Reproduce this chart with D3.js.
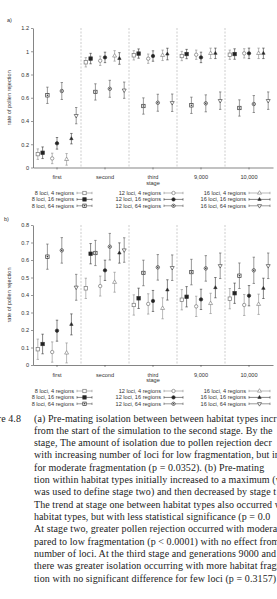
<!DOCTYPE html>
<html>
<head>
<meta charset="utf-8">
<script src="https://cdn.jsdelivr.net/npm/d3@7"></script>
<style>
  body { margin: 0; background: #fff; }
  svg { display: block; }
  .tick text, .lbl { font-family: "Liberation Sans", Arial, sans-serif; font-size: 5.6px; fill: #333; }
  .cap { font-family: "Liberation Serif", "DejaVu Serif", serif; font-size: 10px; letter-spacing: 0.08px; fill: #222; }
</style>
</head>
<body>
<div id="chart"></div>
<script>
// stages along the x axis
var stages = ["first", "second", "third", "9,000", "10,000"];
var series = ["8 loci, 4 regions", "8 loci, 16 regions", "8 loci, 64 regions",
              "12 loci, 4 regions", "12 loci, 16 regions", "12 loci, 64 regions",
              "16 loci, 4 regions", "16 loci, 16 regions", "16 loci, 64 regions"];

// a) between habitat types, one row per series, one value per stage
var betweenRate = [
  [0.115, 0.905, 0.965, 0.959, 0.970],
  [0.127, 0.937, 0.980, 0.976, 0.976],
  [0.621, 0.650, 0.529, 0.535, 0.512],
  [0.078, 0.918, 0.936, 0.970, 0.982],
  [0.208, 0.947, 0.959, 0.947, 0.982],
  [0.658, 0.677, 0.557, 0.552, 0.546],
  [0.070, 0.960, 0.965, 0.982, 0.982],
  [0.248, 0.938, 0.976, 0.982, 0.982],
  [0.446, 0.665, 0.557, 0.575, 0.575]
];
var betweenErr = [
  [0.045, 0.040, 0.040, 0.040, 0.040],
  [0.050, 0.045, 0.040, 0.040, 0.045],
  [0.070, 0.070, 0.070, 0.070, 0.070],
  [0.045, 0.040, 0.040, 0.040, 0.040],
  [0.050, 0.045, 0.045, 0.045, 0.045],
  [0.073, 0.073, 0.073, 0.073, 0.073],
  [0.050, 0.045, 0.045, 0.045, 0.045],
  [0.045, 0.050, 0.050, 0.045, 0.045],
  [0.070, 0.070, 0.075, 0.075, 0.075]
];

// b) within habitat types
var withinRate = [
  [0.090, 0.438, 0.343, 0.373, 0.379],
  [0.120, 0.636, 0.381, 0.390, 0.410],
  [0.619, 0.640, 0.526, 0.531, 0.510],
  [0.074, 0.451, 0.349, 0.335, 0.343],
  [0.196, 0.541, 0.366, 0.375, 0.396],
  [0.655, 0.676, 0.558, 0.552, 0.541],
  [0.069, 0.473, 0.324, 0.352, 0.347],
  [0.232, 0.640, 0.429, 0.442, 0.438],
  [0.444, 0.657, 0.556, 0.567, 0.567]
];
var withinErr = [
  [0.058, 0.058, 0.058, 0.058, 0.058],
  [0.056, 0.058, 0.058, 0.058, 0.058],
  [0.072, 0.072, 0.073, 0.073, 0.073],
  [0.058, 0.057, 0.058, 0.058, 0.060],
  [0.060, 0.058, 0.060, 0.058, 0.058],
  [0.073, 0.076, 0.073, 0.073, 0.075],
  [0.057, 0.057, 0.060, 0.058, 0.058],
  [0.060, 0.058, 0.058, 0.058, 0.058],
  [0.074, 0.070, 0.073, 0.073, 0.073]
];

var captionLines = [
  "(a) Pre-mating isolation between between habitat types incr",
  "from the start of the simulation to the second stage. By the",
  "stage, The amount of isolation due to pollen rejection decr",
  "with increasing number of loci for low fragmentation, but incr",
  "for moderate fragmentation (p = 0.0352).  (b) Pre-mating",
  "tion within habitat types initially increased to a maximum (w",
  "was used to define stage two) and then decreased by stage t",
  "The trend at stage one between habitat types also occurred w",
  "habitat types, but with less statistical significance (p = 0.0",
  "At stage two, greater pollen rejection occurred with moderate",
  "pared to low fragmentation (p < 0.0001) with no effect from",
  "number of loci. At the third stage and generations 9000 and 10",
  "there was greater isolation occurring with more habitat fragm",
  "tion with no significant difference for few loci (p = 0.3157) an"
];

var width = 277, height = 599;
var svg = d3.select("#chart").append("svg")
    .attr("width", width).attr("height", height);
svg.append("rect").attr("width", width).attr("height", height).attr("fill", "#fff");

var xScale = d3.scaleBand().domain(stages).range([33, 273]);
var inner = d3.scalePoint().domain(series).range([0, xScale.bandwidth()]).padding(1);

// colour of error bars depends on fragmentation
function barColour(i) { return ["#8a8a8a", "#333", "#555"][i % 3]; }

function marker(g, i, x, y) {
  var loci = Math.floor(i / 3), reg = i % 3;
  var s = 3.4;
  var fill = reg == 1 ? "#222" : "#fff";
  var stroke = reg == 0 ? "#777" : "#333";
  if (loci == 0) {
    g.append("rect").attr("x", x - s / 2).attr("y", y - s / 2)
      .attr("width", s).attr("height", s)
      .attr("fill", fill).attr("stroke", stroke).attr("stroke-width", 0.7);
    if (reg == 2) g.append("circle").attr("cx", x).attr("cy", y).attr("r", 0.8).attr("fill", "#333");
  } else if (loci == 1) {
    g.append("circle").attr("cx", x).attr("cy", y).attr("r", s / 2)
      .attr("fill", fill).attr("stroke", stroke).attr("stroke-width", 0.7);
    if (reg == 2) g.append("circle").attr("cx", x).attr("cy", y).attr("r", 0.8).attr("fill", "#333");
  } else {
    var sym = d3.symbol().type(d3.symbolTriangle).size(reg == 1 ? 5 : 7);
    g.append("path").attr("d", sym())
      .attr("transform", "translate(" + x + "," + y + ")" + (reg == 2 ? " rotate(180)" : ""))
      .attr("fill", fill).attr("stroke", stroke).attr("stroke-width", 0.6);
  }
}

function panel(opts) {
  var yScale = d3.scaleLinear().domain([0, opts.max]).range([opts.bottom, opts.top]);
  var g = svg.append("g");

  // dashed separators between stages
  stages.slice(1).forEach(function(s) {
    g.append("line")
      .attr("x1", xScale(s)).attr("x2", xScale(s))
      .attr("y1", opts.top).attr("y2", opts.bottom)
      .attr("stroke", "#999").attr("stroke-width", 0.5)
      .attr("stroke-dasharray", "2,1.5");
  });

  var yAxis = d3.axisLeft(yScale).tickValues(d3.range(0, opts.max + 1e-9, opts.step))
      .tickFormat(d3.format("~g")).tickSizeInner(2).tickSizeOuter(0).tickPadding(2);
  var xAxis = d3.axisBottom(xScale).tickSizeInner(2).tickSizeOuter(0).tickPadding(6);

  var ya = g.append("g").attr("transform", "translate(33,0)").call(yAxis);
  var xa = g.append("g").attr("transform", "translate(0," + opts.bottom + ")").call(xAxis);
  [ya, xa].forEach(function(a) {
    a.select(".domain").attr("stroke", "#333").attr("stroke-width", 0.6);
    a.selectAll(".tick line").attr("stroke", "#333").attr("stroke-width", 0.5);
  });

  g.append("text").attr("class", "lbl")
    .attr("x", 153).attr("y", opts.bottom + 17).attr("text-anchor", "middle").text("stage");
  g.append("text").attr("class", "lbl")
    .attr("transform", "translate(11," + ((opts.top + opts.bottom) / 2) + ") rotate(-90)")
    .attr("text-anchor", "middle").text("rate of pollen rejection");
  g.append("text").attr("class", "lbl")
    .attr("x", opts.tagX).attr("y", opts.tagY).text(opts.tag);

  // points with error bars
  series.forEach(function(name, i) {
    stages.forEach(function(st, j) {
      var x = xScale(st) + inner(name);
      var v = opts.rate[i][j], e = opts.err[i][j];
      var y0 = yScale(v - e), y1 = yScale(v + e);
      var col = barColour(i);
      g.append("line").attr("x1", x).attr("x2", x).attr("y1", y0).attr("y2", y1)
        .attr("stroke", col).attr("stroke-width", 0.6);
      [y0, y1].forEach(function(yy) {
        g.append("line").attr("x1", x - 1.2).attr("x2", x + 1.2).attr("y1", yy).attr("y2", yy)
          .attr("stroke", col).attr("stroke-width", 0.6);
      });
      marker(g, i, x, yScale(v));
    });
  });

  // legend, three columns
  var cols = [{tx: 74, x0: 77, x1: 92}, {tx: 161, x0: 164, x1: 183}, {tx: 246, x0: 249, x1: 270}];
  series.forEach(function(name, i) {
    var c = cols[Math.floor(i / 3)];
    var y = opts.legendY + (i % 3) * 6.4;
    g.append("text").attr("class", "lbl").attr("x", c.tx).attr("y", y + 2)
      .attr("text-anchor", "end").text(name);
    var col = barColour(i);
    g.append("line").attr("x1", c.x0).attr("x2", c.x1).attr("y1", y).attr("y2", y)
      .attr("stroke", col).attr("stroke-width", 0.6);
    [c.x0, c.x1].forEach(function(xx) {
      g.append("line").attr("x1", xx).attr("x2", xx).attr("y1", y - 1.2).attr("y2", y + 1.2)
        .attr("stroke", col).attr("stroke-width", 0.6);
    });
    marker(g, i, (c.x0 + c.x1) / 2, y);
  });
}

panel({rate: betweenRate, err: betweenErr, max: 1.2, step: 0.2, top: 28, bottom: 167.5,
       legendY: 193, tag: "a)", tagX: 7, tagY: 22});
panel({rate: withinRate, err: withinErr, max: 0.8, step: 0.1, top: 225, bottom: 365,
       legendY: 391, tag: "b)", tagX: 4, tagY: 221});

// caption below the charts (cut at the right edge like the scanned page)
svg.append("text").attr("class", "cap").attr("x", 21).attr("y", 421.5)
  .attr("text-anchor", "end").text("Figure 4.8");
captionLines.forEach(function(t, i) {
  svg.append("text").attr("class", "cap").attr("x", 34).attr("y", 421.5 + i * 12.33).text(t);
});
</script>
</body>
</html>
